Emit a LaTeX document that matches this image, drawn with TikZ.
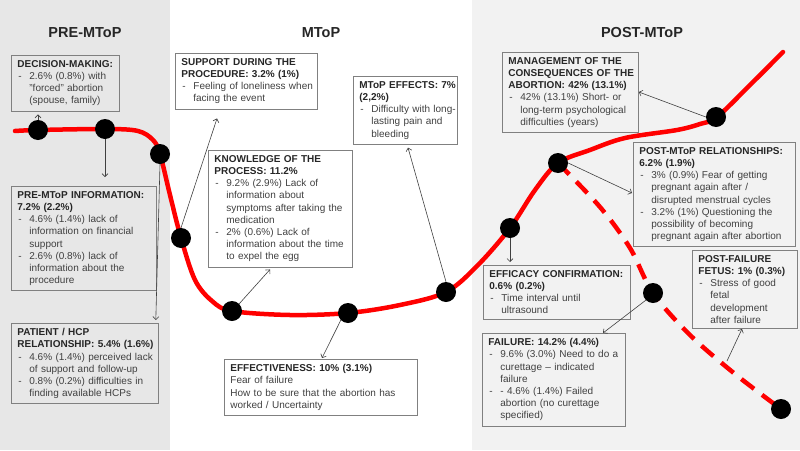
\documentclass[tikz,border=0pt]{standalone}
\usepackage{fontspec}
\setmainfont{Liberation Sans}
\usetikzlibrary{arrows.meta,calc}
\definecolor{leftp}{RGB}{231,231,231}
\definecolor{rightp}{RGB}{242,242,242}
\definecolor{txt}{RGB}{64,64,64}
\definecolor{hdc}{RGB}{38,38,38}
\definecolor{bord}{RGB}{128,128,128}
\definecolor{curve}{RGB}{255,0,0}
\newcommand\hd[1]{\mbox{\bfseries\color{hdc}#1}}
\newcommand\li[1]{\mbox{\makebox[12pt][l]{\hspace{1pt}-}#1}}
\newcommand\lc[1]{\mbox{\hspace*{12pt}#1}}
\newcommand\pl[1]{\mbox{#1}}
\begin{document}
\begin{tikzpicture}[x=1pt,y=-1pt,
  infobox/.style={draw=bord, line width=0.8pt, anchor=north west, align=left, inner xsep=6pt, inner ysep=5pt, text=txt, font=\fontsize{10}{12.2}\selectfont},
  title/.style={font=\fontsize{14.5}{16}\selectfont\bfseries, text=hdc},
  dot/.style={circle, fill=black, minimum size=20pt, inner sep=0pt},
  arr/.style={draw=black!75, line width=0.6pt, -{Straight Barb[length=3pt,width=6pt]}},
  redline/.style={draw=curve, line width=4.5pt, line cap=round},
]
\useasboundingbox (0,0) rectangle (800,450);
\fill[leftp] (0,0) rectangle (170,450);
\fill[rightp] (472,0) rectangle (800,450);

\node[title] (t1) at (85,33) {PRE-MToP};
\node[title] (t2) at (321,33) {MToP};
\node[title] (t3) at (642,33) {POST-MToP};

% curve
\draw[redline] plot[smooth, tension=0.55] coordinates {(15,131) (38,130) (107,129) (138,131) (153,140) (160,154) (170,195) (181,238) (195,280) (212,301) (232,311) (290,315) (348,313) (400,305) (446,292) (478,265) (510,228) (535,190) (558,163) (590,150) (625,138) (677,130) (700,124) (717,117) (750,85) (783,52)};
\draw[redline, line cap=butt, dash pattern=on 16pt off 10pt] plot[smooth, tension=0.55] coordinates {(558,163) (600,207) (630,248) (653,293) (690,335) (735,374) (781,409)};

% dots
\node[dot] (d1) at (38,130) {};
\node[dot] (d2) at (105,129) {};
\node[dot] (d3) at (160,154) {};
\node[dot] (d4) at (181,238) {};
\node[dot] (d5) at (232,311) {};
\node[dot] (d6) at (348,313) {};
\node[dot] (d7) at (446,292) {};
\node[dot] (d8) at (510,228) {};
\node[dot] (d9) at (558,163) {};
\node[dot] (d10) at (716,117) {};
\node[dot] (d11) at (653,293) {};
\node[dot] (d12) at (781,409) {};
\coordinate (pfs) at (727,361);

% boxes
\node[infobox, text width=96pt] (dec) at (11,55) {\hd{DECISION-MAKING:}\\ \li{2.6\% (0.8\%) with}\\ \lc{"forced" abortion}\\ \lc{(spouse, family)}};

\node[infobox, text width=133pt] (preinfo) at (11,186) {\hd{PRE-MToP INFORMATION:}\\ \hd{7.2\% (2.2\%)}\\ \li{4.6\% (1.4\%) lack of}\\ \lc{information on financial}\\ \lc{support}\\ \li{2.6\% (0.8\%) lack of}\\ \lc{information about the}\\ \lc{procedure}};

\node[infobox, text width=135pt] (pat) at (11,323) {\hd{PATIENT / HCP}\\ \hd{RELATIONSHIP: 5.4\% (1.6\%)}\\ \li{4.6\% (1.4\%) perceived lack}\\ \lc{of support and follow-up}\\ \li{0.8\% (0.2\%) difficulties in}\\ \lc{finding available HCPs}};

\node[infobox, text width=130pt] (sup) at (175,53) {\hd{SUPPORT DURING THE}\\ \hd{PROCEDURE: 3.2\% (1\%)}\\ \li{Feeling of loneliness when}\\ \lc{facing the event}};

\node[infobox, text width=132pt] (know) at (208,150) {\hd{KNOWLEDGE OF THE}\\ \hd{PROCESS: 11.2\%}\\ \li{9.2\% (2.9\%) Lack of}\\ \lc{information about}\\ \lc{symptoms after taking the}\\ \lc{medication}\\ \li{2\% (0.6\%) Lack of}\\ \lc{information about the time}\\ \lc{to expel the egg}};

\node[infobox, text width=92pt] (effx) at (353,76) {\hd{MToP EFFECTS: 7\%}\\ \hd{(2,2\%)}\\ \li{Difficulty with long-}\\ \lc{lasting pain and}\\ \lc{bleeding}};

\node[infobox, text width=181pt] (eff) at (224,359) {\hd{EFFECTIVENESS: 10\% (3.1\%)}\\ \pl{Fear of failure}\\ \pl{How to be sure that the abortion has}\\ \pl{worked / Uncertainty}};

\node[infobox, text width=124pt] (mgmt) at (502,52) {\hd{MANAGEMENT OF THE}\\ \hd{CONSEQUENCES OF THE}\\ \hd{ABORTION: 42\% (13.1\%)}\\ \li{42\% (13.1\%) Short- or}\\ \lc{long-term psychological}\\ \lc{difficulties (years)}};

\node[infobox, text width=150pt] (prel) at (633,142) {\hd{POST-MToP RELATIONSHIPS:}\\ \hd{6.2\% (1.9\%)}\\ \li{3\% (0.9\%) Fear of getting}\\ \lc{pregnant again after /}\\ \lc{disrupted menstrual cycles}\\ \li{3.2\% (1\%) Questioning the}\\ \lc{possibility of becoming}\\ \lc{pregnant again after abortion}};

\node[infobox, text width=135pt] (effc) at (483,265) {\hd{EFFICACY CONFIRMATION:}\\ \hd{0.6\% (0.2\%)}\\ \li{Time interval until}\\ \lc{ultrasound}};

\node[infobox, text width=131pt] (fail) at (482,333) {\hd{FAILURE: 14.2\% (4.4\%)}\\ \li{9.6\% (3.0\%) Need to do a}\\ \lc{curettage – indicated}\\ \lc{failure}\\ \li{- 4.6\% (1.4\%) Failed}\\ \lc{abortion (no curettage}\\ \lc{specified)}};

\node[infobox, text width=93pt] (pf) at (692,250) {\hd{POST-FAILURE}\\ \hd{FETUS: 1\% (0.3\%)}\\ \li{Stress of good}\\ \lc{fetal}\\ \lc{development}\\ \lc{after failure}};

% connectors
\draw[arr] (d1.north) -- ($(dec.south -| d1)+(0,3)$);
\draw[arr] (d2.south) -- ($(preinfo.north -| d2)+(0,-9)$);
\draw[arr] (d3.south) -- ($(pat.north east)+(-3,-3)$);
\draw[arr] (d4.north) -- ($(sup.south west)+(42,9)$);
\draw[arr] (d5.north east) -- ($(know.south west)+(62,2)$);
\draw[arr] (d6.south west) -- ($(eff.north west)+(98,-1)$);
\draw[arr] (d7.north) -- ($(effx.south west)+(55,3)$);
\draw[arr] (d8.south) -- ($(effc.north -| d8)+(0,-3)$);
\draw[arr] (d9.east) -- ($(prel.north west)+(-1,51)$);
\draw[arr] (d10.west) -- ($(mgmt.north east)+(0,40)$);
\draw[arr] (d11.south west) -- ($(fail.north west)+(121,0)$);
\draw[arr] (pfs) -- ($(pf.south west)+(50,0)$);
\end{tikzpicture}
\end{document}
